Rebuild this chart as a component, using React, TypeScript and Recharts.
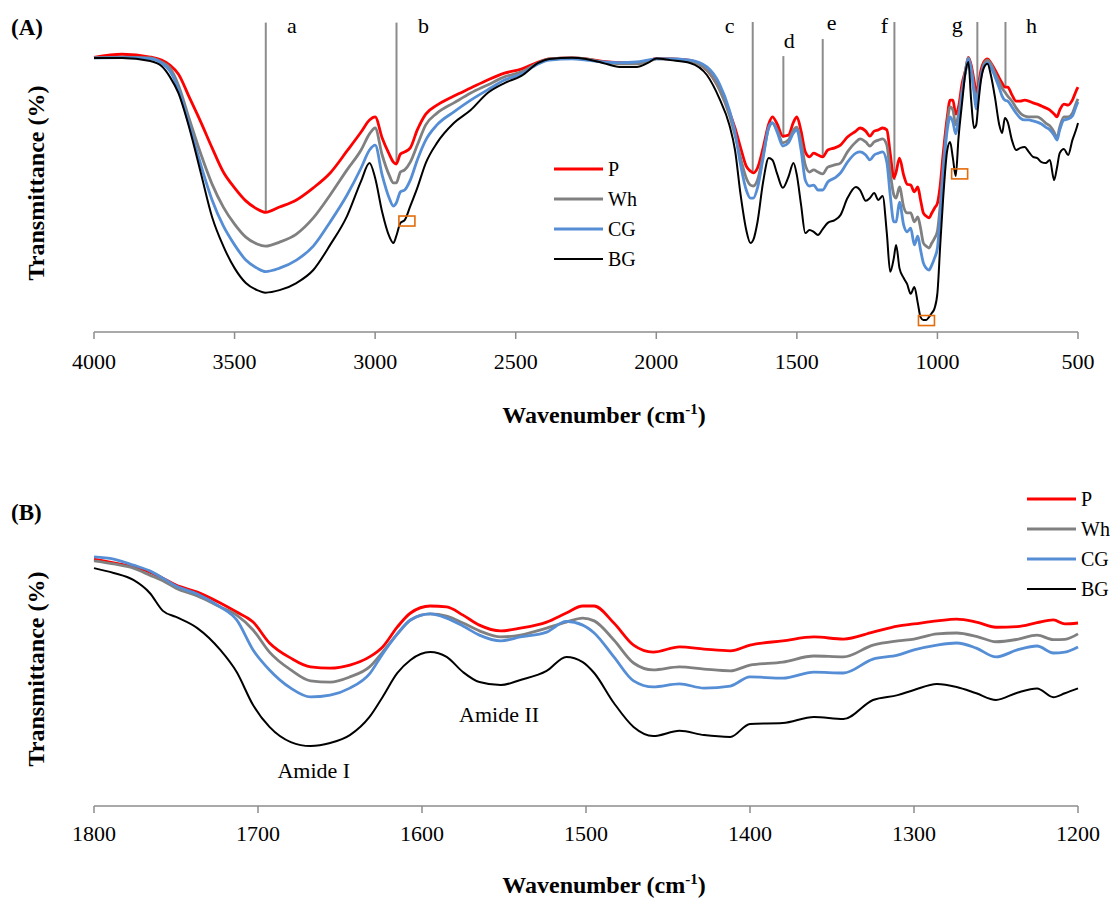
import React from 'react';
import { LineChart, Line, XAxis, YAxis, ReferenceLine, ReferenceDot, Legend, Label } from 'recharts';

const FONT = '"Liberation Serif", "Times New Roman", Times, serif';

// ---------- Panel A : full spectrum ----------
const A_WAVENUMBER = [
  4000, 3900, 3800, 3760, 3730, 3700, 3660, 3620, 3580, 3540,
  3500, 3460, 3420, 3390, 3340, 3280, 3220, 3160, 3100, 3050,
  3020, 3000, 2975, 2950, 2935, 2925, 2910, 2895, 2875, 2850,
  2820, 2780, 2720, 2660, 2600, 2540, 2480, 2420, 2380, 2300,
  2250, 2190, 2130, 2070, 2030, 2000, 1950, 1880, 1820, 1775,
  1740, 1720, 1700, 1680, 1665, 1655, 1640, 1620, 1600, 1587,
  1570, 1550, 1530, 1512, 1500, 1485, 1470, 1455, 1440, 1425,
  1408, 1390, 1365, 1345, 1320, 1290, 1275, 1255, 1240, 1225,
  1210, 1195, 1180, 1168, 1155, 1147, 1135, 1120, 1108, 1095,
  1082, 1070, 1060, 1050, 1040, 1030, 1020, 1010, 1000, 990,
  980, 965, 955, 945, 935, 925, 912, 900, 890, 880,
  870, 862, 855, 845, 835, 822, 810, 795, 780, 770,
  760, 750, 735, 720, 705, 690, 675, 660, 645, 630,
  615, 600, 585, 575, 565, 550, 535, 520, 505, 500,
];
const A_P = [
  88.6, 89.6, 88.7, 87.7, 86.1, 83.2, 75.5, 67.7, 59.4, 51.6,
  46.5, 42.3, 39.7, 38.6, 40.3, 42.6, 46.5, 51.3, 58.4, 64.5,
  68.4, 69.4, 62.6, 57.4, 54.8, 54.2, 57.4, 58.1, 59.4, 65.2,
  70.3, 73.2, 76.1, 78.7, 81.3, 83.5, 84.8, 87.1, 88.1, 88.4,
  88.1, 87.3, 86.9, 86.8, 87.4, 88.2, 88.1, 87.6, 84.5, 78.4,
  71.0, 65.8, 59.4, 53.5, 51.9, 51.3, 52.9, 59.4, 67.1, 69.4,
  67.1, 63.2, 63.5, 67.7, 69.4, 64.8, 58.1, 56.5, 57.7, 57.1,
  56.5, 58.7, 59.4, 60.3, 62.9, 64.8, 65.8, 64.8, 63.2, 64.8,
  65.2, 65.8, 65.2, 57.7, 49.7, 51.6, 56.1, 50.6, 47.7, 47.4,
  45.2, 46.8, 42.6, 38.4, 37.4, 36.8, 38.4, 40.0, 41.6, 47.4,
  57.1, 69.4, 74.8, 74.8, 70.3, 72.6, 80.3, 84.5, 88.6, 86.1,
  81.3, 77.4, 79.4, 84.5, 87.1, 88.1, 86.8, 84.5, 81.9, 80.3,
  79.0, 79.0, 76.5, 74.5, 74.5, 74.8, 74.5, 73.9, 73.5, 72.9,
  72.3, 71.6, 70.3, 69.4, 71.6, 73.5, 73.2, 74.8, 78.1, 79.0,
];
const A_WH = [
  88.4, 88.7, 88.4, 87.1, 85.2, 79.7, 68.4, 57.4, 47.7, 40.3,
  34.8, 30.6, 28.4, 27.7, 29.0, 31.6, 36.8, 44.2, 52.3, 58.7,
  63.9, 65.8, 57.1, 50.6, 48.1, 48.1, 51.6, 52.3, 54.8, 60.3,
  66.8, 70.6, 73.9, 77.1, 79.7, 82.3, 83.9, 86.8, 88.1, 88.4,
  88.1, 87.1, 86.5, 86.5, 87.1, 88.1, 88.1, 87.4, 84.5, 78.1,
  70.0, 63.5, 56.1, 49.7, 47.4, 47.1, 49.0, 57.1, 65.8, 67.4,
  65.2, 61.0, 61.9, 65.2, 66.1, 61.3, 53.9, 51.6, 52.3, 51.6,
  51.0, 53.2, 53.9, 54.5, 58.1, 61.3, 62.3, 61.3, 60.0, 61.3,
  61.9, 62.3, 60.3, 51.6, 44.2, 43.2, 46.8, 40.3, 38.4, 38.4,
  35.5, 37.1, 33.5, 28.7, 27.7, 27.1, 28.7, 30.3, 32.6, 41.0,
  52.9, 67.4, 72.6, 71.6, 66.8, 70.3, 78.1, 84.5, 88.5, 85.2,
  78.7, 73.5, 78.1, 82.9, 86.5, 87.7, 86.5, 83.5, 80.6, 78.7,
  77.4, 76.1, 74.5, 72.3, 70.6, 69.7, 69.4, 69.4, 69.4, 68.7,
  67.4, 66.5, 64.5, 62.6, 66.1, 69.4, 69.4, 70.6, 74.2, 75.2,
];
const A_CG = [
  88.4, 88.5, 88.2, 86.8, 84.2, 78.4, 66.5, 53.9, 42.6, 34.2,
  28.1, 23.2, 20.6, 19.5, 20.6, 23.2, 27.7, 35.5, 44.2, 52.9,
  58.7, 60.3, 50.6, 43.2, 40.6, 41.6, 45.2, 45.8, 49.0, 55.5,
  61.9, 66.8, 71.0, 74.8, 78.1, 81.3, 83.2, 86.5, 87.7, 88.1,
  87.7, 87.1, 86.9, 87.1, 87.7, 88.1, 88.1, 87.7, 85.5, 80.0,
  71.6, 64.5, 53.9, 45.8, 43.2, 43.2, 46.5, 56.1, 66.1, 67.5,
  64.5, 60.0, 61.0, 64.2, 65.2, 58.7, 49.0, 47.1, 47.4, 45.8,
  45.8, 48.4, 49.7, 51.3, 54.8, 57.7, 58.1, 57.1, 55.5, 57.1,
  57.7, 58.1, 54.8, 44.2, 35.5, 35.5, 41.9, 34.5, 32.3, 33.5,
  28.1, 30.9, 26.5, 22.3, 20.6, 20.0, 21.6, 23.9, 27.1, 37.7,
  50.6, 65.2, 69.4, 67.7, 63.9, 68.4, 77.1, 83.9, 88.2, 84.5,
  77.4, 71.9, 76.8, 82.3, 85.8, 86.8, 85.5, 82.3, 78.7, 76.1,
  74.8, 74.5, 72.6, 70.6, 69.0, 68.4, 68.4, 68.1, 67.7, 67.1,
  66.1, 65.2, 63.5, 61.9, 65.2, 68.4, 68.7, 69.7, 73.2, 74.2,
];
const A_BG = [
  88.4, 88.4, 87.4, 85.8, 82.3, 77.1, 65.5, 51.3, 37.1, 27.7,
  20.6, 15.8, 13.5, 12.7, 13.5, 15.8, 20.0, 28.1, 37.4, 48.7,
  54.5, 49.7, 38.7, 30.9, 28.7, 30.9, 35.2, 36.1, 40.6, 46.5,
  54.5, 61.0, 67.4, 71.6, 77.1, 80.3, 82.6, 86.8, 88.1, 88.5,
  88.1, 86.8, 85.5, 85.5, 86.8, 88.2, 87.7, 86.8, 82.9, 75.2,
  66.8, 58.7, 44.2, 32.9, 28.7, 29.7, 35.5, 48.4, 56.1, 55.5,
  51.0, 46.5, 50.0, 54.5, 50.6, 41.0, 31.9, 32.9, 32.3, 31.3,
  33.2, 35.2, 36.1, 37.7, 43.2, 46.8, 45.8, 42.3, 43.2, 44.8,
  42.6, 43.9, 31.9, 19.4, 23.9, 28.1, 20.6, 17.4, 15.5, 12.3,
  14.5, 9.4, 4.8, 3.9, 3.9, 4.8, 6.1, 7.7, 12.6, 28.1,
  42.6, 58.7, 61.3, 56.1, 50.3, 62.6, 74.2, 83.9, 87.1, 74.8,
  65.8, 66.8, 73.2, 81.3, 85.2, 86.5, 82.9, 75.5, 66.8, 64.2,
  69.0, 67.7, 61.9, 58.7, 59.4, 59.7, 58.1, 56.5, 56.1, 54.8,
  54.5, 55.5, 49.0, 52.9, 57.7, 59.0, 57.1, 61.9, 65.8, 67.4,
];
const A_TICKS = [4000, 3500, 3000, 2500, 2000, 1500, 1000, 500];

// band markers a–h (wavenumber, top and bottom of marker line)
const BAND_LABELS = ['a', 'b', 'c', 'd', 'e', 'f', 'g', 'h'];
const BAND_WAVENUMBER = [3389, 2924, 1657, 1548, 1408, 1153, 858, 758];
const BAND_TOP = [99.8, 99.8, 100, 89.0, 94.5, 100, 100, 100];
const BAND_BOTTOM = [38.6, 54.2, 51.7, 62.6, 56.5, 49.0, 75.9, 78.7];
// highlighted points (orange boxes)
const HIGHLIGHT_WAVENUMBER = [2887, 1039, 921];
const HIGHLIGHT_VALUE = [35.8, 3.7, 51.0];

// ---------- Panel B : amide region ----------
const B_WAVENUMBER = [
  1800, 1788, 1776, 1766, 1758, 1750, 1737, 1723, 1713, 1703,
  1693, 1680, 1668, 1656, 1644, 1632, 1624, 1615, 1607, 1595,
  1585, 1575, 1565, 1552, 1540, 1524, 1512, 1502, 1495, 1483,
  1471, 1459, 1443, 1428, 1412, 1400, 1380, 1361, 1343, 1325,
  1310, 1300, 1286, 1274, 1262, 1250, 1237, 1225, 1215, 1208,
  1200,
];
const B_P = [
  81.5, 80.2, 78.9, 77.2, 75.2, 72.9, 70.6, 67.0, 64.0, 60.7,
  53.8, 48.8, 45.9, 45.5, 46.5, 49.2, 52.5, 59.1, 63.7, 66.0,
  65.7, 63.0, 59.7, 57.8, 58.7, 60.7, 63.7, 66.0, 66.0, 60.4,
  53.1, 50.8, 52.5, 51.8, 51.2, 53.1, 54.5, 55.8, 55.1, 57.4,
  59.4, 60.1, 61.1, 61.7, 60.7, 59.0, 59.2, 60.5, 61.4, 60.1,
  60.4,
];
const B_WH = [
  80.9, 79.9, 78.5, 76.2, 74.3, 71.9, 69.3, 65.7, 63.0, 58.1,
  50.8, 44.9, 41.3, 40.9, 42.6, 45.9, 50.8, 56.8, 61.4, 63.4,
  62.7, 60.4, 57.8, 55.8, 56.4, 58.7, 60.7, 62.0, 61.1, 54.8,
  47.2, 44.9, 45.9, 45.2, 44.6, 46.5, 47.5, 49.5, 49.2, 53.1,
  54.5, 55.1, 56.8, 57.1, 56.0, 54.2, 55.0, 56.4, 54.9, 55.0,
  56.8,
];
const B_CG = [
  82.2, 81.5, 79.5, 77.6, 75.2, 72.6, 70.0, 65.7, 61.4, 51.5,
  44.9, 38.9, 36.0, 36.6, 38.9, 43.6, 50.2, 56.8, 61.4, 63.4,
  62.0, 59.4, 56.4, 54.5, 55.8, 57.4, 60.9, 59.7, 57.1, 49.2,
  41.3, 39.3, 40.3, 38.9, 39.6, 42.6, 42.2, 44.2, 43.9, 48.5,
  49.8, 51.5, 53.1, 53.8, 52.1, 49.2, 51.5, 52.8, 50.5, 50.8,
  52.5,
];
const B_BG = [
  78.5, 76.9, 74.6, 70.3, 64.4, 62.4, 58.7, 51.5, 44.2, 33.3,
  26.1, 21.1, 19.8, 20.8, 23.4, 29.4, 36.0, 43.9, 48.2, 50.8,
  49.2, 44.2, 40.9, 39.9, 41.6, 44.6, 49.2, 47.5, 43.9, 34.0,
  26.1, 23.1, 24.8, 23.4, 22.8, 27.1, 27.4, 29.4, 28.7, 35.0,
  36.6, 38.3, 40.3, 39.3, 37.2, 35.0, 37.4, 38.8, 35.9, 37.2,
  38.8,
];
const B_TICKS = [1800, 1700, 1600, 1500, 1400, 1300, 1200];
const AMIDE_LABELS = ['Amide I', 'Amide II'];
const AMIDE_WAVENUMBER = [1666, 1553];
const AMIDE_VALUE = [9.2, 27.7];

// ---------- series ----------
const SERIES_NAMES = ['P', 'Wh', 'CG', 'BG'];
const SERIES_COLORS = ['#FF0000', '#808080', '#558ED5', '#000000'];

// ---------- styling / layout ----------
const SERIES_WIDTHS = [2.8, 2.8, 2.8, 2];
const AXIS_GRAY = '#8C8C8C';
const BAND_LABEL_DX = [26, 27, -23, 6, 9, -10, -20, 26];
const BAND_LABEL_Y = [33, 33, 33, 48, 30, 33, 32, 33];

const aRows = A_WAVENUMBER.map((wn, i) => ({ wn, P: A_P[i], Wh: A_WH[i], CG: A_CG[i], BG: A_BG[i] }));
const bRows = B_WAVENUMBER.map((wn, i) => ({ wn, P: B_P[i], Wh: B_WH[i], CG: B_CG[i], BG: B_BG[i] }));

const renderLegend = (props: any) => {
  const payload = [...(props.payload || [])].sort(
    (a: any, b: any) => SERIES_NAMES.indexOf(a.value) - SERIES_NAMES.indexOf(b.value)
  );
  return (
    <div style={{ fontFamily: FONT }}>
      {payload.map((entry: any, i: number) => {
        const idx = SERIES_NAMES.indexOf(entry.value);
        return (
          <div key={i} style={{ display: 'flex', alignItems: 'center', height: 30 }}>
            <svg width={49} height={6} style={{ display: 'block' }}>
              <line x1={0} y1={3} x2={49} y2={3} stroke={SERIES_COLORS[idx]} strokeWidth={SERIES_WIDTHS[idx] || 2.5} />
            </svg>
            <span style={{ marginLeft: 5, fontSize: 20, color: '#000', lineHeight: '30px' }}>{entry.value}</span>
          </div>
        );
      })}
    </div>
  );
};

const xTitle = (y: number) => () => (
  <text x={604} y={y} textAnchor="middle" fontFamily={FONT} fontWeight="bold" fontSize={24} fill="#000">
    Wavenumber (cm<tspan dy={-9} fontSize={15}>-1</tspan><tspan dy={9} fontSize={24}>)</tspan>
  </text>
);

const yTitle = (cy: number) => () => (
  <text x={36} y={cy} textAnchor="middle" dominantBaseline="central" transform={`rotate(-90, 36, ${cy})`}
    fontFamily={FONT} fontWeight="bold" fontSize={24} fill="#000">
    Transmittance (%)
  </text>
);

const panelTag = (tag: string, y: number) => () => (
  <text x={11} y={y} fontFamily={FONT} fontWeight="bold" fontSize={23} fill="#000">{tag}</text>
);

const renderTick = (props: any) => {
  const { x, y, payload } = props;
  return (
    <text x={x} y={y} dy="0.71em" textAnchor="middle" fontFamily={FONT} fontSize={22} fill="#000"
      style={{ fontFamily: FONT }}>
      {payload.value}
    </text>
  );
};

const lines = SERIES_NAMES.map((name, i) => (
  <Line key={name} type="monotone" dataKey={name} name={name} stroke={SERIES_COLORS[i]}
    strokeWidth={SERIES_WIDTHS[i]} dot={false} activeDot={false} isAnimationActive={false} />
));

export default function App() {
  return (
    <div style={{ position: 'absolute', left: 0, top: 0, width: 1110, height: 900, background: '#fff', fontFamily: FONT }}>
      <div style={{ position: 'absolute', left: 0, top: 0 }}>
        <LineChart width={1110} height={450} data={aRows} margin={{ top: 22, right: 32, left: 94, bottom: 58 }}>
          <XAxis dataKey="wn" type="number" domain={[500, 4000]} reversed ticks={A_TICKS} interval={0}
            tick={renderTick} tickSize={7} tickMargin={14} height={60}
            axisLine={{ stroke: AXIS_GRAY, strokeWidth: 1.5 }} tickLine={{ stroke: AXIS_GRAY, strokeWidth: 1.5 }}>
            <Label content={xTitle(423)} />
            <Label content={yTitle(183)} />
            <Label content={panelTag('(A)', 35)} />
          </XAxis>
          <YAxis type="number" domain={[0, 100]} width={0} tick={false} tickLine={false}
            axisLine={{ stroke: AXIS_GRAY, strokeWidth: 1.5 }} />
          {BAND_LABELS.map((lab, i) => (
            <ReferenceLine key={lab}
              segment={[{ x: BAND_WAVENUMBER[i], y: BAND_TOP[i] }, { x: BAND_WAVENUMBER[i], y: BAND_BOTTOM[i] }]}
              stroke={AXIS_GRAY} strokeWidth={2}
              label={(p: any) => (
                <text x={(p.viewBox ? p.viewBox.x : 0) + BAND_LABEL_DX[i]} y={BAND_LABEL_Y[i]} textAnchor="middle"
                  fontFamily={FONT} fontSize={22} fill="#000">{lab}</text>
              )} />
          ))}
          {lines}
          {HIGHLIGHT_WAVENUMBER.map((wn, i) => (
            <ReferenceDot key={wn} x={wn} y={HIGHLIGHT_VALUE[i]} r={0}
              shape={(p: any) => (
                <rect x={p.cx - 8} y={p.cy - 5} width={16} height={10} fill="none" stroke="#E46C0A" strokeWidth={1.6} />
              )} />
          ))}
          <Legend layout="vertical" align="center" verticalAlign="middle" content={renderLegend}
            wrapperStyle={{ left: 554, top: 154, width: 120, height: 125 }} />
        </LineChart>
      </div>
      <div style={{ position: 'absolute', left: 0, top: 450 }}>
        <LineChart width={1110} height={450} data={bRows} margin={{ top: 53, right: 32, left: 94, bottom: 34 }}>
          <XAxis dataKey="wn" type="number" domain={[1200, 1800]} reversed ticks={B_TICKS} interval={0}
            tick={renderTick} tickSize={7} tickMargin={12} height={60}
            axisLine={{ stroke: AXIS_GRAY, strokeWidth: 1.5 }} tickLine={{ stroke: AXIS_GRAY, strokeWidth: 1.5 }}>
            <Label content={xTitle(443)} />
            <Label content={yTitle(219)} />
            <Label content={panelTag('(B)', 70)} />
          </XAxis>
          <YAxis type="number" domain={[0, 100]} width={0} tick={false} tickLine={false}
            axisLine={{ stroke: AXIS_GRAY, strokeWidth: 1.5 }} />
          {lines}
          {AMIDE_LABELS.map((lab, i) => (
            <ReferenceDot key={lab} x={AMIDE_WAVENUMBER[i]} y={AMIDE_VALUE[i]} r={0}
              shape={(p: any) => (
                <text x={p.cx} y={p.cy} textAnchor="middle" fontFamily={FONT} fontSize={22} fill="#000">{lab}</text>
              )} />
          ))}
          <Legend layout="vertical" align="center" verticalAlign="middle" content={renderLegend}
            wrapperStyle={{ left: 1027, top: 34, width: 90, height: 125 }} />
        </LineChart>
      </div>
    </div>
  );
}
